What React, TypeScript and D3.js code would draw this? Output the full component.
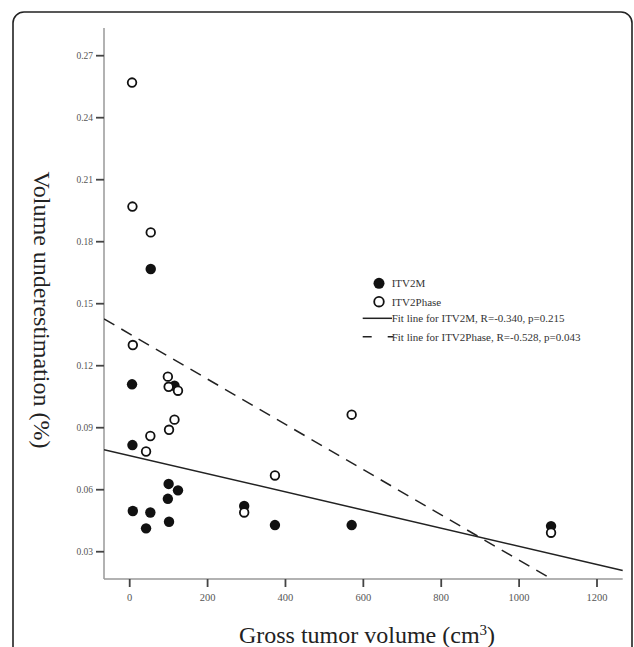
import React from "react"
import * as d3 from "d3"

// tumor volumes (cm3) of the patients, same order for both series
const volumes = [6, 7, 8, 42, 53, 54, 98, 100, 101, 115, 124, 294, 373, 570, 1082]
const itv2m = [0.111, 0.0816, 0.0497, 0.0413, 0.049, 0.1668, 0.0556, 0.0628, 0.0445, 0.1103, 0.0597, 0.0521, 0.0429, 0.0429, 0.0424]
const itv2phase = [0.257, 0.197, 0.130, 0.0785, 0.086, 0.1845, 0.1147, 0.1098, 0.089, 0.0939, 0.1079, 0.049, 0.0669, 0.0963, 0.0392]

// fit lines: [intercept, slope]
const fitM = [0.0765, -0.0000439]
const fitPhase = [0.1354, -0.0001095]

const xTicks = [0, 200, 400, 600, 800, 1000, 1200]
const yTicks = [0.03, 0.06, 0.09, 0.12, 0.15, 0.18, 0.21, 0.24, 0.27]

const legendLabels = ["ITV2M", "ITV2Phase", "Fit line for ITV2M, R=-0.340, p=0.215", "Fit line for ITV2Phase, R=-0.528, p=0.043"]

export default function App() {
  const W = 634, H = 647
  const x = d3.scaleLinear().domain([-66, 1266]).range([104, 622.7])
  const y = d3.scaleLinear().domain([0.0168, 0.2834]).range([579, 28])

  const fitPath = (f: number[]) => {
    const line = d3.line<number>().x(v => x(v)).y(v => y(f[0] + f[1] * v))
    return line(x.domain()) || ""
  }

  const serif = "'Liberation Serif', 'Times New Roman', serif"
  const legendY = [283.3, 301.7, 318.3, 336.7]

  return (
    <svg width={W} height={H} style={{ position: "absolute", left: 0, top: 0, background: "#fff" }}>
      <defs>
        <clipPath id="plot">
          <rect x={104} y={28} width={519} height={551} />
        </clipPath>
      </defs>
      <rect x={13} y={12} width={619} height={660} rx={11} fill="none" stroke="#222" strokeWidth={1.6} />

      {/* axes */}
      <line x1={104} x2={104} y1={28} y2={579} stroke="#999" strokeWidth={1.5} />
      <line x1={104} x2={622.7} y1={579} y2={579} stroke="#999" strokeWidth={1.5} />
      {yTicks.map(t => (
        <g key={"y" + t}>
          <line x1={96} x2={104} y1={y(t)} y2={y(t)} stroke="#444" strokeWidth={1.8} />
          <text x={93} y={y(t)} dy="0.35em" textAnchor="end" fontSize={9.5} fill="#555" fontFamily={serif}>
            {t.toFixed(2)}
          </text>
        </g>
      ))}
      {xTicks.map(t => (
        <g key={"x" + t}>
          <line x1={x(t)} x2={x(t)} y1={579} y2={587} stroke="#444" strokeWidth={1.8} />
          <text x={x(t)} y={601} textAnchor="middle" fontSize={10.5} fill="#555" fontFamily={serif}>
            {t}
          </text>
        </g>
      ))}

      {/* fit lines */}
      <g clipPath="url(#plot)" fill="none">
        <path d={fitPath(fitM)} stroke="#222" strokeWidth={1.5} />
        <path d={fitPath(fitPhase)} stroke="#222" strokeWidth={1.5} strokeDasharray="12,8" />
      </g>

      {/* points */}
      {volumes.map((v, i) => (
        <circle key={"m" + i} cx={x(v)} cy={y(itv2m[i])} r={5.2} fill="#111" />
      ))}
      {volumes.map((v, i) => (
        <circle key={"p" + i} cx={x(v)} cy={y(itv2phase[i])} r={4.3} fill="#fff" stroke="#111" strokeWidth={1.8} />
      ))}

      {/* legend */}
      <g fontFamily={serif} fontSize={11} fill="#333">
        <circle cx={379} cy={legendY[0]} r={5.5} fill="#111" />
        <circle cx={379} cy={legendY[1]} r={4.8} fill="#fff" stroke="#111" strokeWidth={1.8} />
        <line x1={362.7} x2={392} y1={legendY[2]} y2={legendY[2]} stroke="#222" strokeWidth={1.5} />
        <line x1={362.7} x2={393} y1={legendY[3]} y2={legendY[3]} stroke="#222" strokeWidth={1.5} strokeDasharray="9,16" />
        {legendLabels.map((l, i) => (
          <text key={l} x={391.7} y={legendY[i]} dy="0.35em">{l}</text>
        ))}
      </g>

      {/* axis titles */}
      <text x={367} y={643} textAnchor="middle" fontSize={24} fill="#222" fontFamily={serif}>
        Gross tumor volume (cm<tspan baselineShift="super" fontSize={15}>3</tspan>)
      </text>
      <text transform="translate(42,310) rotate(90)" textAnchor="middle" dy="0.35em" fontSize={24} fill="#222"
        fontFamily={serif}>
        Volume underestimation (%)
      </text>
    </svg>
  )
}
